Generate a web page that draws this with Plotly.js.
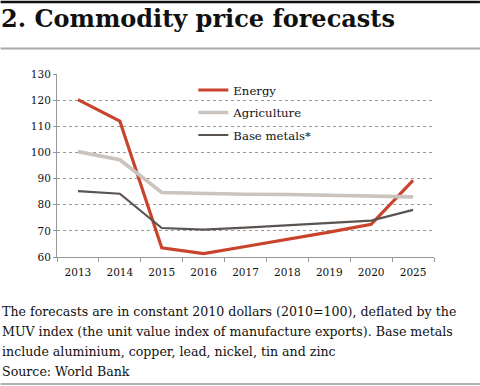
<!DOCTYPE html>
<html>
<head>
<meta charset="utf-8">
<script src="https://cdn.plot.ly/plotly-3.0.1.min.js"></script>
<style>
html,body{margin:0;padding:0;background:#fff;}
#chart{width:480px;height:386px;}
</style>
</head>
<body>
<div id="chart"></div>
<script>
// ---- data ----
var years = ["2013","2014","2015","2016","2017","2018","2019","2020","2025"];
var energy = [120.2, 112.0, 63.5, 61.3, 64.0, 66.7, 69.5, 72.5, 89.3];
var agriculture = [100.3, 97.2, 84.7, 84.2, 84.0, 83.9, 83.7, 83.5, 83.0];
var baseMetals = [85.2, 84.2, 71.1, 70.5, 71.2, 72.1, 73.0, 73.9, 78.0];
var seriesNames = ["Energy", "Agriculture", "Base metals*"];
var yTicks = [60, 70, 80, 90, 100, 110, 120, 130];
var titleText = "2. Commodity price forecasts";
var noteLines = [
  "The forecasts are in constant 2010 dollars (2010=100), deflated by the",
  "MUV index (the unit value index of manufacture exports). Base metals",
  "include aluminium, copper, lead, nickel, tin and zinc",
  "Source: World Bank"
];

// ---- layout geometry (pixels) ----
var W = 480, H = 386;
var L = 56.5, R = 46, T = 74, B = 129;
var plotW = W - L - R, plotH = H - T - B;
function px(x){ return (x - L) / plotW; }
function py(y){ return (H - B - y) / plotH; }

var serif = "DejaVu Serif";

var traces = [
  {x: years, y: energy, name: seriesNames[0], type: "scatter", mode: "lines",
   legendgroup: "a", line: {color: "#c8442c", width: 3.2}},
  {x: years, y: agriculture, name: seriesNames[1], type: "scatter", mode: "lines",
   legendgroup: "b", line: {color: "#cbc4be", width: 3.6}},
  {x: years, y: baseMetals, name: seriesNames[2], type: "scatter", mode: "lines",
   legendgroup: "c", line: {color: "#5a5450", width: 2.2}}
];

var annotations = [
  {text: "<b>" + titleText + "</b>", xref: "paper", yref: "paper",
   x: px(-2), y: py(29), xanchor: "left", yanchor: "bottom", yshift: -6, showarrow: false,
   font: {family: serif, size: 24, color: "#111"}}
];
noteLines.forEach(function(t, i){
  annotations.push({text: t, xref: "paper", yref: "paper",
    x: px(-1), y: py(317 + i * 20), xanchor: "left", yanchor: "bottom", yshift: -4,
    showarrow: false, font: {family: serif, size: 12.6, color: "#111"}});
});

var shapes = [
  {type: "line", xref: "paper", yref: "paper", x0: px(0), x1: px(480), y0: py(2), y1: py(2),
   line: {color: "#111", width: 2.5}},
  {type: "line", xref: "paper", yref: "paper", x0: px(0), x1: px(480), y0: py(48.5), y1: py(48.5),
   line: {color: "#aaa", width: 2}},
  {type: "line", xref: "paper", yref: "paper", x0: px(0), x1: px(480), y0: py(384), y1: py(384),
   line: {color: "#999", width: 1.5}}
];

var layout = {
  width: W, height: H,
  margin: {l: L, r: R, t: T, b: B, pad: 0},
  paper_bgcolor: "#fff", plot_bgcolor: "#fff",
  showlegend: true,
  legend: {x: px(193), y: py(75.5), xanchor: "left", yanchor: "top", traceorder: "grouped",
    bgcolor: "rgba(0,0,0,0)", font: {family: serif, size: 11.7, color: "#111"},
    tracegroupgap: 3.5},
  xaxis: {type: "category", range: [-0.5, 8.5], showgrid: false, showline: true,
    linecolor: "#999", linewidth: 1, ticks: "outside", tickson: "boundaries",
    ticklen: 4, tickcolor: "#999", tickwidth: 1, ticklabelstandoff: 5,
    tickfont: {family: serif, size: 10.5, color: "#111"}, fixedrange: true, zeroline: false},
  yaxis: {range: [60, 130], tickvals: yTicks, showgrid: true, gridcolor: "#999",
    griddash: "dot", gridwidth: 1, showline: true, linecolor: "#999", linewidth: 1,
    ticks: "outside", ticklen: 3, tickcolor: "#999",
    tickfont: {family: serif, size: 10.5, color: "#111"}, zeroline: false, fixedrange: true},
  annotations: annotations,
  shapes: shapes
};

Plotly.newPlot("chart", traces, layout, {displayModeBar: false, staticPlot: true});
</script>
</body>
</html>
